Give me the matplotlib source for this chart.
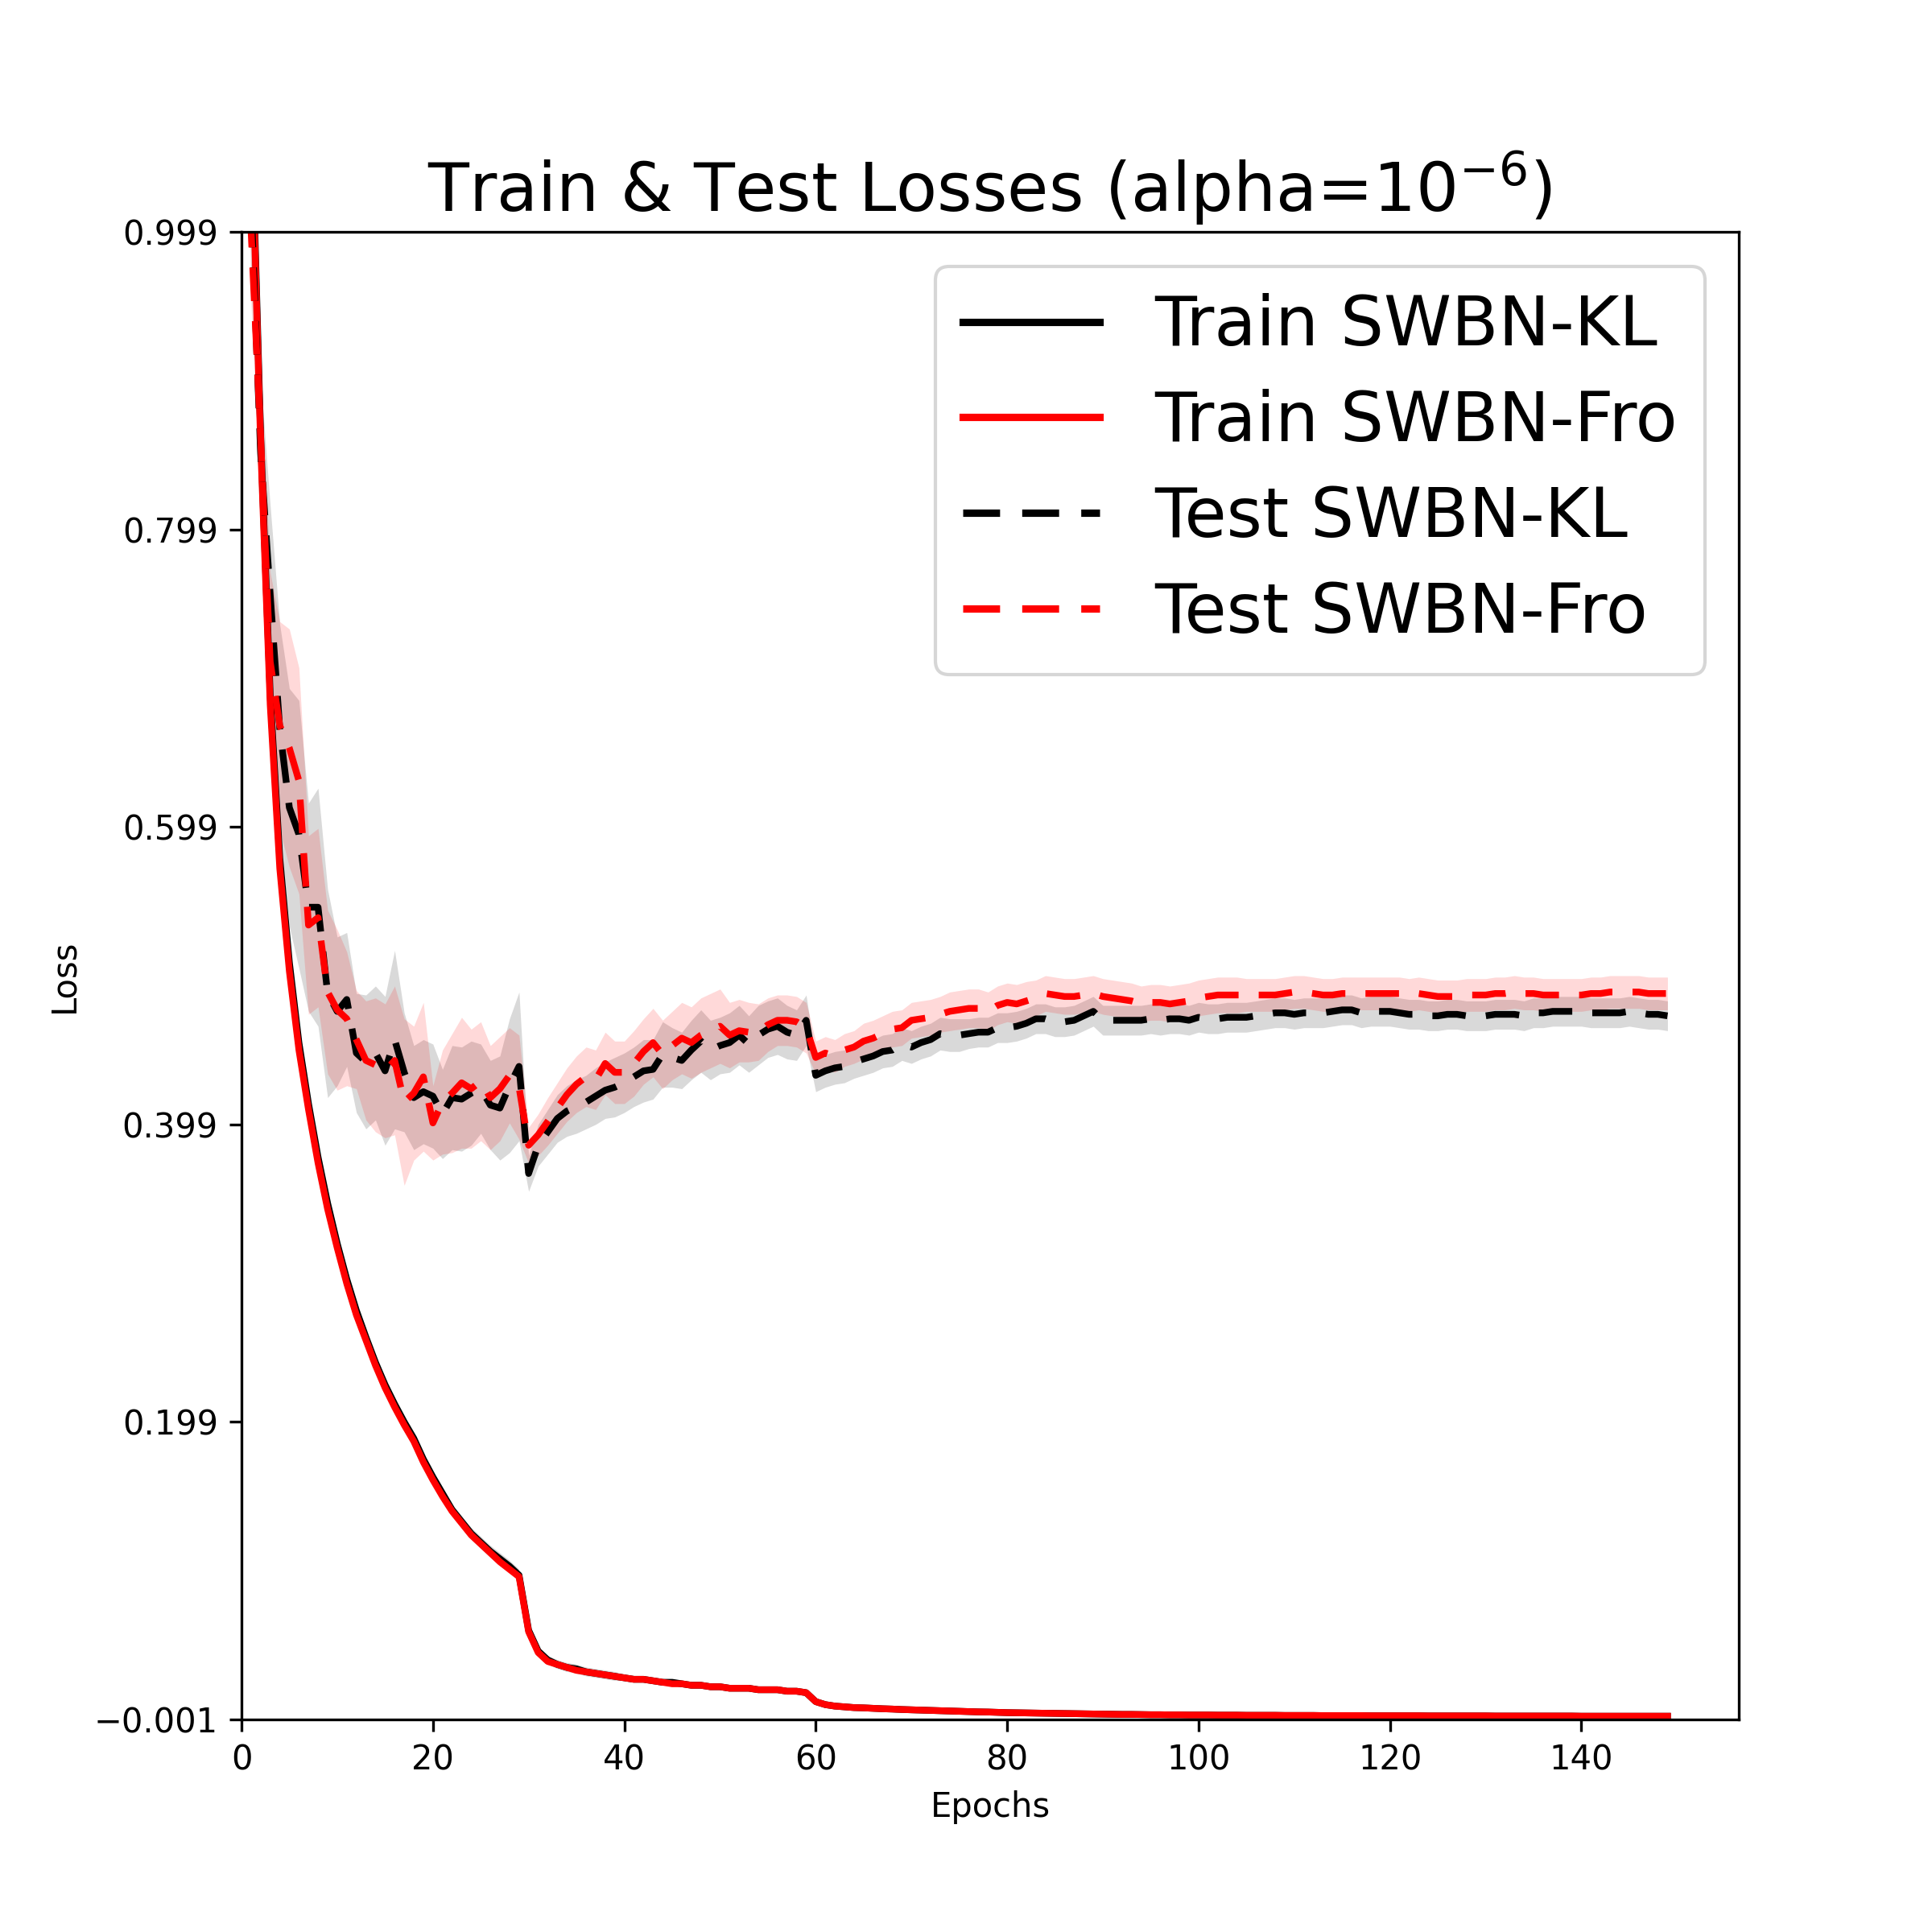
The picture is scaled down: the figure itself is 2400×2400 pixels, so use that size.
import numpy as np
import matplotlib
matplotlib.use("Agg")
import matplotlib.pyplot as plt
from matplotlib.ticker import FuncFormatter

epochs = list(range(150))

train_fro = [
    2.20, 1.08, 0.856, 0.681, 0.571, 0.502, 0.449, 0.409, 0.373, 0.342,
    0.316, 0.292, 0.271, 0.254, 0.237, 0.222, 0.209, 0.197, 0.186, 0.172,
    0.160, 0.149, 0.139, 0.131, 0.123, 0.117, 0.111, 0.105, 0.100, 0.095,
    0.058, 0.044, 0.038, 0.036, 0.034, 0.032, 0.031, 0.030, 0.029, 0.028,
    0.027, 0.026, 0.026, 0.025, 0.024, 0.023, 0.023, 0.022, 0.022, 0.021,
    0.021, 0.020, 0.020, 0.020, 0.019, 0.019, 0.019, 0.018, 0.018, 0.017,
    0.011, 0.009, 0.008, 0.0075, 0.0070, 0.0068, 0.0065, 0.0062, 0.0060, 0.0057,
    0.0055, 0.0053, 0.0051, 0.0049, 0.0047, 0.0045, 0.0043, 0.0041, 0.0040, 0.0038,
    0.0036, 0.0035, 0.0034, 0.0033, 0.0032, 0.0031, 0.0030, 0.0029, 0.0028, 0.0027,
    0.0026, 0.0025, 0.0024, 0.0024, 0.0023, 0.0022, 0.0022, 0.0021, 0.0021, 0.0020,
    0.0020, 0.0020, 0.0019, 0.0019, 0.0019, 0.0018, 0.0018, 0.0018, 0.0018, 0.0017,
    0.0017, 0.0017, 0.0017, 0.0016, 0.0016, 0.0016, 0.0016, 0.0016, 0.0015, 0.0015,
    0.0015, 0.0015, 0.0015, 0.0015, 0.0014, 0.0014, 0.0014, 0.0014, 0.0014, 0.0014,
    0.0014, 0.0013, 0.0013, 0.0013, 0.0013, 0.0013, 0.0013, 0.0013, 0.0013, 0.0013,
    0.0012, 0.0012, 0.0012, 0.0012, 0.0012, 0.0012, 0.0012, 0.0012, 0.0012, 0.0012,
]

train_kl = [
    2.20, 1.09, 0.862, 0.688, 0.578, 0.508, 0.454, 0.413, 0.377, 0.346,
    0.319, 0.295, 0.274, 0.256, 0.239, 0.224, 0.211, 0.199, 0.188, 0.174,
    0.162, 0.151, 0.140, 0.132, 0.124, 0.118, 0.112, 0.107, 0.102, 0.096,
    0.059, 0.045, 0.039, 0.036, 0.034, 0.033, 0.031, 0.030, 0.029, 0.028,
    0.027, 0.026, 0.026, 0.025, 0.024, 0.024, 0.023, 0.022, 0.022, 0.021,
    0.021, 0.020, 0.020, 0.020, 0.019, 0.019, 0.019, 0.018, 0.018, 0.017,
    0.011, 0.009, 0.008, 0.0075, 0.0070, 0.0068, 0.0065, 0.0062, 0.0060, 0.0057,
    0.0055, 0.0053, 0.0051, 0.0049, 0.0047, 0.0045, 0.0043, 0.0041, 0.0040, 0.0038,
    0.0036, 0.0035, 0.0034, 0.0033, 0.0032, 0.0031, 0.0030, 0.0029, 0.0028, 0.0027,
    0.0026, 0.0025, 0.0024, 0.0024, 0.0023, 0.0022, 0.0022, 0.0021, 0.0021, 0.0020,
    0.0020, 0.0020, 0.0019, 0.0019, 0.0019, 0.0018, 0.0018, 0.0018, 0.0018, 0.0017,
    0.0017, 0.0017, 0.0017, 0.0016, 0.0016, 0.0016, 0.0016, 0.0016, 0.0015, 0.0015,
    0.0015, 0.0015, 0.0015, 0.0015, 0.0014, 0.0014, 0.0014, 0.0014, 0.0014, 0.0014,
    0.0014, 0.0013, 0.0013, 0.0013, 0.0013, 0.0013, 0.0013, 0.0013, 0.0013, 0.0013,
    0.0012, 0.0012, 0.0012, 0.0012, 0.0012, 0.0012, 0.0012, 0.0012, 0.0012, 0.0012,
]

train_kl_std = [
    0.010, 0.008, 0.006, 0.005, 0.005, 0.005, 0.004, 0.004, 0.004, 0.004,
    0.004, 0.004, 0.004, 0.004, 0.004, 0.004, 0.004, 0.004, 0.004, 0.004,
    0.004, 0.004, 0.004, 0.004, 0.004, 0.004, 0.004, 0.004, 0.004, 0.004,
    0.003, 0.003, 0.003, 0.003, 0.003, 0.003, 0.003, 0.003, 0.003, 0.003,
    0.002, 0.002, 0.002, 0.002, 0.002, 0.002, 0.002, 0.002, 0.002, 0.002,
    0.002, 0.002, 0.002, 0.002, 0.002, 0.002, 0.002, 0.002, 0.002, 0.002,
    0.001, 0.001, 0.001, 0.001, 0.001, 0.001, 0.001, 0.001, 0.001, 0.001,
    0.001, 0.001, 0.001, 0.001, 0.001, 0.001, 0.001, 0.001, 0.001, 0.001,
    0.001, 0.001, 0.001, 0.001, 0.001, 0.001, 0.001, 0.001, 0.001, 0.001,
    0.001, 0.001, 0.001, 0.001, 0.001, 0.001, 0.001, 0.001, 0.001, 0.001,
    0.001, 0.001, 0.001, 0.001, 0.001, 0.001, 0.001, 0.001, 0.001, 0.001,
    0.001, 0.001, 0.001, 0.001, 0.001, 0.001, 0.001, 0.001, 0.001, 0.001,
    0.001, 0.001, 0.001, 0.001, 0.001, 0.001, 0.001, 0.001, 0.001, 0.001,
    0.001, 0.001, 0.001, 0.001, 0.001, 0.001, 0.001, 0.001, 0.001, 0.001,
    0.001, 0.001, 0.001, 0.001, 0.001, 0.001, 0.001, 0.001, 0.001, 0.001,
]

train_fro_std = [
    0.008, 0.006, 0.005, 0.004, 0.004, 0.004, 0.003, 0.003, 0.003, 0.003,
    0.003, 0.003, 0.003, 0.003, 0.003, 0.003, 0.003, 0.003, 0.003, 0.003,
    0.003, 0.003, 0.003, 0.003, 0.003, 0.003, 0.003, 0.003, 0.003, 0.003,
    0.002, 0.002, 0.002, 0.002, 0.002, 0.002, 0.002, 0.002, 0.002, 0.002,
    0.002, 0.002, 0.002, 0.002, 0.002, 0.002, 0.002, 0.002, 0.002, 0.002,
    0.002, 0.002, 0.002, 0.002, 0.002, 0.002, 0.002, 0.002, 0.002, 0.002,
    0.001, 0.001, 0.001, 0.001, 0.001, 0.001, 0.001, 0.001, 0.001, 0.001,
    0.001, 0.001, 0.001, 0.001, 0.001, 0.001, 0.001, 0.001, 0.001, 0.001,
    0.001, 0.001, 0.001, 0.001, 0.001, 0.001, 0.001, 0.001, 0.001, 0.001,
    0.001, 0.001, 0.001, 0.001, 0.001, 0.001, 0.001, 0.001, 0.001, 0.001,
    0.001, 0.001, 0.001, 0.001, 0.001, 0.001, 0.001, 0.001, 0.001, 0.001,
    0.001, 0.001, 0.001, 0.001, 0.001, 0.001, 0.001, 0.001, 0.001, 0.001,
    0.001, 0.001, 0.001, 0.001, 0.001, 0.001, 0.001, 0.001, 0.001, 0.001,
    0.001, 0.001, 0.001, 0.001, 0.001, 0.001, 0.001, 0.001, 0.001, 0.001,
    0.001, 0.001, 0.001, 0.001, 0.001, 0.001, 0.001, 0.001, 0.001, 0.001,
]

test_kl = [
    1.40, 1.02, 0.850, 0.755, 0.665, 0.612, 0.594, 0.545, 0.545, 0.487,
    0.475, 0.483, 0.447, 0.441, 0.447, 0.435, 0.456, 0.434, 0.417, 0.421,
    0.418, 0.406, 0.417, 0.416, 0.420, 0.423, 0.412, 0.410, 0.425, 0.438,
    0.366, 0.385, 0.394, 0.403, 0.408, 0.411, 0.414, 0.418, 0.422, 0.424,
    0.427, 0.431, 0.435, 0.436, 0.446, 0.444, 0.442, 0.449, 0.455, 0.449,
    0.452, 0.454, 0.459, 0.453, 0.459, 0.463, 0.465, 0.461, 0.459, 0.469,
    0.432, 0.435, 0.437, 0.438, 0.441, 0.443, 0.445, 0.448, 0.449, 0.453,
    0.451, 0.454, 0.456, 0.460, 0.459, 0.459, 0.460, 0.461, 0.461, 0.464,
    0.464, 0.465, 0.467, 0.470, 0.470, 0.468, 0.468, 0.469, 0.472, 0.475,
    0.469, 0.469, 0.469, 0.469, 0.469, 0.470, 0.469, 0.470, 0.470, 0.469,
    0.471, 0.470, 0.470, 0.471, 0.471, 0.471, 0.472, 0.473, 0.474, 0.474,
    0.473, 0.474, 0.474, 0.474, 0.475, 0.476, 0.476, 0.474, 0.475, 0.475,
    0.475, 0.474, 0.473, 0.473, 0.472, 0.472, 0.473, 0.473, 0.472, 0.472,
    0.472, 0.473, 0.473, 0.473, 0.472, 0.474, 0.474, 0.475, 0.475, 0.475,
    0.475, 0.474, 0.474, 0.474, 0.474, 0.475, 0.474, 0.473, 0.473, 0.472,
]

test_fro = [
    1.40, 1.00, 0.860, 0.710, 0.667, 0.652, 0.630, 0.533, 0.538, 0.488,
    0.476, 0.470, 0.456, 0.442, 0.439, 0.435, 0.442, 0.414, 0.420, 0.431,
    0.400, 0.414, 0.420, 0.427, 0.423, 0.428, 0.417, 0.423, 0.432, 0.424,
    0.385, 0.392, 0.401, 0.410, 0.419, 0.426, 0.431, 0.429, 0.440, 0.434,
    0.434, 0.440, 0.448, 0.454, 0.446, 0.452, 0.457, 0.454, 0.459, 0.462,
    0.465, 0.459, 0.462, 0.461, 0.461, 0.466, 0.469, 0.469, 0.468, 0.464,
    0.444, 0.447, 0.445, 0.449, 0.451, 0.455, 0.457, 0.460, 0.463, 0.464,
    0.469, 0.470, 0.471, 0.473, 0.475, 0.476, 0.477, 0.477, 0.475, 0.479,
    0.481, 0.480, 0.482, 0.484, 0.487, 0.486, 0.485, 0.485, 0.486, 0.487,
    0.485, 0.484, 0.483, 0.482, 0.480, 0.481, 0.481, 0.480, 0.481, 0.482,
    0.484, 0.485, 0.486, 0.486, 0.486, 0.486, 0.486, 0.486, 0.486, 0.487,
    0.488, 0.488, 0.487, 0.486, 0.486, 0.487, 0.487, 0.487, 0.487, 0.487,
    0.487, 0.487, 0.486, 0.487, 0.486, 0.485, 0.485, 0.485, 0.486, 0.486,
    0.486, 0.487, 0.487, 0.488, 0.487, 0.487, 0.486, 0.486, 0.486, 0.486,
    0.486, 0.487, 0.487, 0.488, 0.488, 0.488, 0.488, 0.487, 0.487, 0.487,
]

test_kl_std = [
    0.060, 0.050, 0.050, 0.060, 0.070, 0.080, 0.090, 0.070, 0.080, 0.070,
    0.050, 0.045, 0.040, 0.045, 0.045, 0.050, 0.060, 0.040, 0.035, 0.035,
    0.035, 0.030, 0.035, 0.035, 0.035, 0.030, 0.030, 0.035, 0.045, 0.050,
    0.012, 0.014, 0.015, 0.016, 0.017, 0.018, 0.018, 0.019, 0.019, 0.020,
    0.020, 0.020, 0.021, 0.020, 0.022, 0.020, 0.019, 0.020, 0.021, 0.020,
    0.019, 0.020, 0.020, 0.019, 0.020, 0.019, 0.019, 0.018, 0.017, 0.017,
    0.011, 0.011, 0.011, 0.011, 0.011, 0.011, 0.011, 0.011, 0.011, 0.011,
    0.011, 0.011, 0.011, 0.011, 0.011, 0.011, 0.010, 0.010, 0.010, 0.010,
    0.010, 0.010, 0.010, 0.010, 0.010, 0.010, 0.010, 0.010, 0.010, 0.010,
    0.010, 0.010, 0.010, 0.010, 0.010, 0.010, 0.010, 0.010, 0.010, 0.010,
    0.010, 0.010, 0.010, 0.010, 0.010, 0.010, 0.010, 0.010, 0.010, 0.010,
    0.010, 0.010, 0.010, 0.010, 0.010, 0.010, 0.010, 0.010, 0.010, 0.010,
    0.010, 0.010, 0.010, 0.010, 0.010, 0.010, 0.010, 0.010, 0.010, 0.010,
    0.010, 0.010, 0.010, 0.010, 0.010, 0.010, 0.010, 0.010, 0.010, 0.010,
    0.010, 0.010, 0.010, 0.010, 0.010, 0.010, 0.010, 0.010, 0.010, 0.010,
]

test_fro_std = [
    0.060, 0.050, 0.050, 0.060, 0.070, 0.080, 0.076, 0.060, 0.060, 0.055,
    0.054, 0.045, 0.033, 0.040, 0.045, 0.045, 0.050, 0.056, 0.045, 0.050,
    0.025, 0.035, 0.040, 0.044, 0.040, 0.040, 0.035, 0.035, 0.032, 0.035,
    0.012, 0.014, 0.016, 0.017, 0.018, 0.019, 0.020, 0.020, 0.021, 0.021,
    0.021, 0.022, 0.022, 0.023, 0.023, 0.023, 0.024, 0.024, 0.025, 0.025,
    0.025, 0.022, 0.021, 0.020, 0.019, 0.018, 0.017, 0.017, 0.017, 0.017,
    0.011, 0.011, 0.011, 0.011, 0.011, 0.012, 0.012, 0.012, 0.012, 0.012,
    0.012, 0.012, 0.012, 0.012, 0.013, 0.013, 0.013, 0.013, 0.013, 0.013,
    0.013, 0.013, 0.013, 0.012, 0.012, 0.012, 0.012, 0.012, 0.012, 0.012,
    0.012, 0.012, 0.012, 0.012, 0.012, 0.012, 0.012, 0.012, 0.012, 0.012,
    0.012, 0.012, 0.012, 0.012, 0.012, 0.011, 0.011, 0.011, 0.011, 0.011,
    0.011, 0.011, 0.011, 0.011, 0.011, 0.011, 0.011, 0.011, 0.011, 0.011,
    0.011, 0.011, 0.011, 0.011, 0.011, 0.011, 0.011, 0.011, 0.011, 0.011,
    0.011, 0.011, 0.011, 0.011, 0.011, 0.011, 0.011, 0.011, 0.011, 0.011,
    0.011, 0.011, 0.011, 0.011, 0.011, 0.011, 0.011, 0.011, 0.011, 0.011,
]

y_ticks = [-0.001, 0.199, 0.399, 0.599, 0.799, 0.999]

fig, ax = plt.subplots(figsize=(8, 8), dpi=300)
x = np.array(epochs)

series = [
    (train_kl, train_kl_std, "k", "-", "Train SWBN-KL"),
    (train_fro, train_fro_std, "r", "-", "Train SWBN-Fro"),
    (test_kl, test_kl_std, "k", (0, (5, 3)), "Test SWBN-KL"),
    (test_fro, test_fro_std, "r", (0, (5, 3)), "Test SWBN-Fro"),
]
for vals, std, col, ls, lab in series:
    v = np.array(vals)
    s = np.array(std)
    ax.plot(x, v, color=col, linestyle=ls, linewidth=2, label=lab)
    ax.fill_between(x, v - s, v + s, color=col, alpha=0.15, linewidth=0)

ax.set_xlim(left=0)
ax.set_ylim(y_ticks[0], y_ticks[-1])
ax.set_yticks(y_ticks)
ax.yaxis.set_major_formatter(FuncFormatter(lambda v, p: f"{v:.3f}".replace("-", "\u2212")))
ax.set_xlabel("Epochs")
ax.set_ylabel("Loss")
ax.set_title(r"Train & Test Losses (alpha=$10^{-6}$)", fontsize=20)
leg = ax.legend(loc="upper right", fontsize=20.4, labelspacing=0.42)
for h in leg.get_lines():
    h.set_linewidth(2.2)

fig.savefig("out.png", dpi=300)
